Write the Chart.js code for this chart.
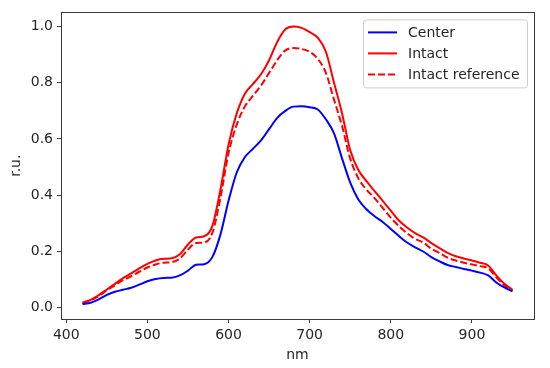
<!DOCTYPE html>
<html>
<head>
<meta charset="utf-8">
<script src="https://cdn.jsdelivr.net/npm/chart.js@4.4.0/dist/chart.umd.min.js"></script>
<style>
  html, body { margin: 0; padding: 0; background: #fff; }
  #wrap { width: 550px; height: 368px; }
</style>
</head>
<body>
<div id="wrap"><canvas id="grafico" width="550" height="368"></canvas></div>
<script>
const wavelengths = [420, 430, 440, 450, 460, 470, 480, 490, 500, 510, 520, 530, 540, 550, 560, 570, 580, 590,
  600, 610, 620, 630, 640, 650, 660, 670, 680, 690, 700, 710, 720, 730, 740, 750, 760, 770, 780, 790,
  800, 810, 820, 830, 840, 850, 860, 870, 880, 890, 900, 910, 920, 930, 940, 950];

const center = [0.013, 0.018, 0.030, 0.046, 0.057, 0.064, 0.071, 0.082, 0.094, 0.102, 0.106, 0.107, 0.115, 0.132,
  0.153, 0.155, 0.180, 0.260, 0.380, 0.480, 0.535, 0.565, 0.595, 0.635, 0.675, 0.700, 0.715, 0.716,
  0.713, 0.705, 0.670, 0.620, 0.530, 0.445, 0.385, 0.350, 0.325, 0.305, 0.280, 0.255, 0.232, 0.215,
  0.200, 0.180, 0.165, 0.152, 0.145, 0.138, 0.132, 0.125, 0.115, 0.090, 0.072, 0.058];

const intact = [0.019, 0.028, 0.045, 0.065, 0.085, 0.105, 0.122, 0.140, 0.156, 0.168, 0.174, 0.176, 0.190, 0.225,
  0.250, 0.254, 0.290, 0.420, 0.580, 0.690, 0.760, 0.795, 0.830, 0.880, 0.945, 0.990, 1.000, 0.995,
  0.980, 0.960, 0.910, 0.800, 0.690, 0.560, 0.490, 0.450, 0.415, 0.380, 0.345, 0.310, 0.285, 0.265,
  0.250, 0.230, 0.212, 0.195, 0.183, 0.175, 0.168, 0.160, 0.150, 0.115, 0.085, 0.064];

const intactRef = [0.017, 0.026, 0.042, 0.062, 0.080, 0.098, 0.112, 0.128, 0.143, 0.154, 0.160, 0.162, 0.175, 0.207,
  0.230, 0.232, 0.265, 0.390, 0.550, 0.650, 0.715, 0.753, 0.790, 0.835, 0.880, 0.915, 0.923, 0.920,
  0.910, 0.885, 0.835, 0.740, 0.645, 0.530, 0.460, 0.420, 0.390, 0.355, 0.320, 0.290, 0.265, 0.245,
  0.232, 0.210, 0.195, 0.178, 0.168, 0.160, 0.154, 0.148, 0.140, 0.108, 0.080, 0.060];

const seriesLabels = ["Center", "Intact", "Intact reference"];
const xTicks = [400, 500, 600, 700, 800, 900];
const yTicks = [0.0, 0.2, 0.4, 0.6, 0.8, 1.0];

const FONTE = "'DejaVu Sans', sans-serif";
const COR_TEXTO = "#262626";
const COR_EIXO = "#3a3a3a";

function pontos(valores) {
  return wavelengths.map((nm, i) => ({ x: nm, y: valores[i] }));
}

// moldura completa em volta da area do grafico (estilo matplotlib)
const moldura = {
  id: "moldura",
  afterDatasetsDraw(chart) {
    const { ctx, chartArea } = chart;
    ctx.save();
    ctx.strokeStyle = COR_EIXO;
    ctx.lineWidth = 1;
    ctx.strokeRect(Math.round(chartArea.left) + 0.5, Math.round(chartArea.top) + 0.5,
      Math.round(chartArea.right - chartArea.left), Math.round(chartArea.bottom - chartArea.top));
    ctx.restore();
  }
};

// legenda dentro do grafico, canto superior direito
const legendaInterna = {
  id: "legendaInterna",
  afterDraw(chart) {
    const { ctx, chartArea } = chart;
    const larg = 164, alt = 68;
    const x = chartArea.right - 7 - larg;
    const y = chartArea.top + 7;
    ctx.save();
    ctx.fillStyle = "rgba(255,255,255,0.8)";
    ctx.strokeStyle = "#cccccc";
    ctx.lineWidth = 1;
    ctx.beginPath();
    ctx.roundRect(x + 0.5, y + 0.5, larg, alt, 3);
    ctx.fill();
    ctx.stroke();
    ctx.font = "14px " + FONTE;
    ctx.textBaseline = "middle";
    chart.data.datasets.forEach((ds, i) => {
      const ly = y + 13 + i * 21;
      ctx.strokeStyle = ds.borderColor;
      ctx.lineWidth = ds.borderWidth;
      ctx.setLineDash(ds.borderDash || []);
      ctx.beginPath();
      ctx.moveTo(x + 5, ly);
      ctx.lineTo(x + 34, ly);
      ctx.stroke();
      ctx.setLineDash([]);
      ctx.fillStyle = COR_TEXTO;
      ctx.fillText(ds.label, x + 45, ly + 1);
    });
    ctx.restore();
  }
};

new Chart(document.getElementById("grafico"), {
  type: "line",
  data: {
    datasets: [
      { label: seriesLabels[0], data: pontos(center), borderColor: "#0000ff", borderWidth: 2 },
      { label: seriesLabels[1], data: pontos(intact), borderColor: "#ff0000", borderWidth: 2 },
      { label: seriesLabels[2], data: pontos(intactRef), borderColor: "#ff0000", borderWidth: 2, borderDash: [7, 3] }
    ]
  },
  options: {
    responsive: false,
    animation: false,
    events: [],
    layout: { padding: { top: 11, right: 16, left: 0, bottom: 0 } },
    elements: {
      point: { radius: 0 },
      line: { cubicInterpolationMode: "monotone", fill: false }
    },
    plugins: {
      legend: { display: false },
      tooltip: { enabled: false }
    },
    scales: {
      x: {
        type: "linear",
        min: 393.5,
        max: 976.5,
        afterBuildTicks: (scale) => { scale.ticks = xTicks.map(v => ({ value: v })); },
        afterFit: (scale) => { scale.height = 49; },
        border: { display: false },
        grid: { drawOnChartArea: false, drawTicks: true, tickLength: 4, color: COR_EIXO },
        ticks: {
          color: COR_TEXTO, padding: 4, maxRotation: 0,
          font: { family: FONTE, size: 14 },
          callback: (v) => String(v)
        },
        title: {
          display: true, text: "nm", color: COR_TEXTO,
          font: { family: FONTE, size: 14 }, padding: { top: 0, bottom: 4 }
        }
      },
      y: {
        type: "linear",
        min: -0.04,
        max: 1.05,
        afterBuildTicks: (scale) => { scale.ticks = yTicks.map(v => ({ value: v })); },
        afterFit: (scale) => { scale.width = 61; },
        border: { display: false },
        grid: { drawOnChartArea: false, drawTicks: true, tickLength: 4, color: COR_EIXO },
        ticks: {
          color: COR_TEXTO, padding: 4,
          font: { family: FONTE, size: 14 },
          callback: (v) => Number(v).toFixed(1)
        },
        title: {
          display: true, text: "r.u.", color: COR_TEXTO,
          font: { family: FONTE, size: 14 }, padding: { top: 8, bottom: 0 }
        }
      }
    }
  },
  plugins: [moldura, legendaInterna]
});
</script>
</body>
</html>
